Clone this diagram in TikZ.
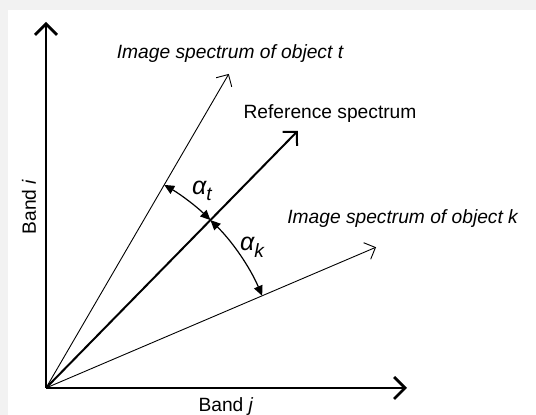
\documentclass[tikz,border=0pt]{standalone}
\usepackage{fontspec}
\setmainfont{Liberation Sans}
\usetikzlibrary{arrows.meta,calc}
\definecolor{bggray}{HTML}{F2F2F2}
\tikzset{
  axis/.style={line width=1.35pt, -{Straight Barb[length=5.5pt,width=11pt,line width=1.35pt]}},
  refvec/.style={line width=1pt, -{Straight Barb[length=5pt,width=10pt,line width=1pt]}},
  objvec/.style={line width=0.45pt, -{Straight Barb[length=4.5pt,width=9pt,line width=0.45pt]}},
  anglearc/.style={line width=0.6pt, {Triangle[length=5pt,width=4.5pt]}-{Triangle[length=5pt,width=4.5pt]}},
  lab/.style={font=\fontsize{9.6}{11}\selectfont, inner sep=0pt},
  itlab/.style={lab, font=\fontsize{9.6}{11}\selectfont\itshape},
}
\begin{document}
\begin{tikzpicture}[x=1pt,y=1pt]
\useasboundingbox (0,0) rectangle (268,207.5);
\fill[bggray] (0,0) rectangle (268,207.5);
\fill[white] (4,0) rectangle (268,202.5);
\coordinate (O) at (23,13.5);
\coordinate (Ytop) at (23,196.5);
\coordinate (Xend) at (203.5,13.5);
\coordinate (T) at ($(O)+(59.8:181.7pt)$);
\coordinate (R) at ($(O)+(45.6:180pt)$);
\coordinate (K) at ($(O)+(23.1:179.4pt)$);
\draw[objvec] (O) -- (T);
\draw[objvec] (O) -- (K);
\draw[refvec] (O) -- (R);
\draw[axis] (O) -- (Ytop);
\draw[axis] (O) -- (Xend);
\coordinate (At) at ($(O)+(59.8:117.5pt)$);
\coordinate (Ak) at ($(O)+(45.6:117.5pt)$);
\draw[anglearc] (At) arc[start angle=59.8, end angle=45.6, radius=117.5pt];
\draw[anglearc] (Ak) arc[start angle=45.6, end angle=23.1, radius=117.5pt];
\node[itlab] (lt) at (115,180.5) {Image spectrum of object t};
\node[lab] (lr) at (165,150.5) {Reference spectrum};
\node[itlab] (lk) at (201.3,98) {Image spectrum of object k};
\node[itlab] (alt) at (101,112) {\fontsize{12.5}{13}\selectfont α\raisebox{-0.5ex}{\fontsize{9.6}{11}\selectfont t}};
\node[itlab] (alk) at (126,84) {\fontsize{12.5}{13}\selectfont α\raisebox{-0.5ex}{\fontsize{9.6}{11}\selectfont k}};
\node[lab, rotate=90] (bi) at (14.5,104) {Band \textit{i}};
\node[lab] (bj) at (113,4) {Band \textit{j}};
\end{tikzpicture}
\end{document}
